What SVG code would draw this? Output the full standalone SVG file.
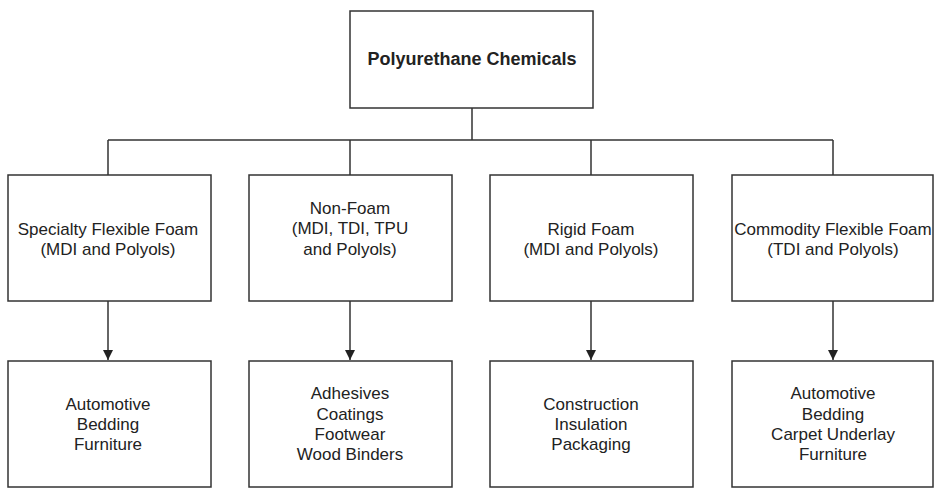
<svg xmlns="http://www.w3.org/2000/svg" width="942" height="494" viewBox="0 0 942 494">
<defs>
<style>
.box{fill:#fff;stroke:#333;stroke-width:1.5}
.t{font-family:"Liberation Sans",Arial,sans-serif;font-size:17px;fill:#222;text-anchor:middle}
.b{font-weight:bold;font-size:18px}
.c{fill:none;stroke:#333;stroke-width:1.5}
</style>
<marker id="ah" viewBox="0 0 10 10" refX="10" refY="5" markerWidth="10" markerHeight="10" markerUnits="userSpaceOnUse" orient="auto">
<path d="M0,0 L10,5 L0,10 z" fill="#222"/>
</marker>
</defs>
<rect width="942" height="494" fill="#fff"/>
<g id="connectors">
<path class="c" d="M472,108 V140 M108,140 H833 M108,140 V175 M350,140 V175 M591,140 V175 M833,140 V175"/>
<path class="c" d="M108,301 V360" marker-end="url(#ah)"/>
<path class="c" d="M350,301 V360" marker-end="url(#ah)"/>
<path class="c" d="M591,301 V360" marker-end="url(#ah)"/>
<path class="c" d="M833,301 V360" marker-end="url(#ah)"/>
</g>
<g id="root"><rect class="box" x="350" y="11" width="243" height="97"/><text class="t b" x="472" y="65">Polyurethane Chemicals</text></g>
<g id="specialty"><rect class="box" x="8" y="175" width="203" height="126"/><text class="t" x="108" y="235">Specialty Flexible Foam</text><text class="t" x="108" y="255">(MDI and Polyols)</text></g>
<g id="nonfoam"><rect class="box" x="249" y="175" width="203" height="126"/><text class="t" x="350" y="214">Non-Foam</text><text class="t" x="350" y="234">(MDI, TDI, TPU</text><text class="t" x="350" y="255">and Polyols)</text></g>
<g id="rigid"><rect class="box" x="490" y="175" width="203" height="126"/><text class="t" x="591" y="235">Rigid Foam</text><text class="t" x="591" y="255">(MDI and Polyols)</text></g>
<g id="commodity"><rect class="box" x="732" y="175" width="201" height="126"/><text class="t" x="833" y="235">Commodity Flexible Foam</text><text class="t" x="833" y="255">(TDI and Polyols)</text></g>
<g id="specialty-uses"><rect class="box" x="8" y="361" width="203" height="126"/><text class="t" x="108" y="410">Automotive</text><text class="t" x="108" y="430">Bedding</text><text class="t" x="108" y="450">Furniture</text></g>
<g id="nonfoam-uses"><rect class="box" x="249" y="361" width="203" height="126"/><text class="t" x="350" y="399">Adhesives</text><text class="t" x="350" y="420">Coatings</text><text class="t" x="350" y="440">Footwear</text><text class="t" x="350" y="460">Wood Binders</text></g>
<g id="rigid-uses"><rect class="box" x="490" y="361" width="203" height="126"/><text class="t" x="591" y="410">Construction</text><text class="t" x="591" y="430">Insulation</text><text class="t" x="591" y="450">Packaging</text></g>
<g id="commodity-uses"><rect class="box" x="732" y="361" width="201" height="126"/><text class="t" x="833" y="399">Automotive</text><text class="t" x="833" y="420">Bedding</text><text class="t" x="833" y="440">Carpet Underlay</text><text class="t" x="833" y="460">Furniture</text></g>
</svg>
